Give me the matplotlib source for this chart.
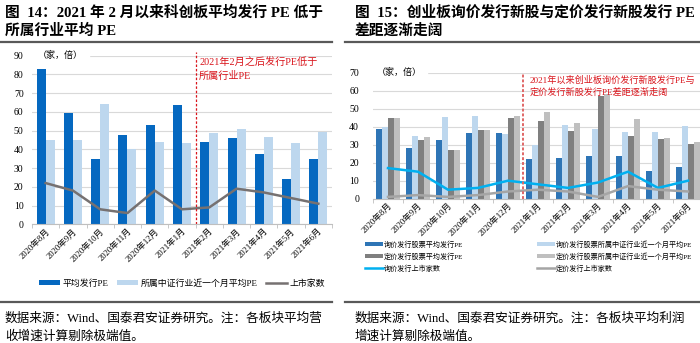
import matplotlib
matplotlib.use('Agg')
from matplotlib import pyplot as plt
from matplotlib.lines import Line2D
import numpy as np

plt.rcParams['font.family'] = ['Liberation Serif', 'Noto Sans CJK SC', 'DejaVu Sans']

# ---- left chart data (figure 14)
months = ['2020年8月', '2020年9月', '2020年10月', '2020年11月', '2020年12月', '2021年1月',
          '2021年2月', '2021年3月', '2021年4月', '2021年5月', '2021年6月']
avg_pe = [83, 59.5, 35, 47.5, 53, 63.5, 44, 46, 37.5, 24, 35]
industry_pe = [45, 45, 64, 40, 44, 43.5, 48.5, 51, 46.5, 43.5, 49]
listings = [22, 18, 8, 6, 18, 8, 9, 19, 17, 14, 11]

# ---- right chart data (figure 15)
months_r = ['2020年8月', '2020年9月', '2020年10月', '2020年11月', '2020年12月', '2021年1月',
            '2021年2月', '2021年3月', '2021年4月', '2021年5月', '2021年6月']
inq_pe = [39, 28, 32.5, 36.5, 36.5, 22, 22.5, 24, 24, 15.5, 17.5]
inq_ind_pe = [40, 35, 45.5, 46, 36, 30, 41, 39, 37, 37, 40.5]
fix_pe = [45, 32.5, 27, 38, 45, 43, 37.5, 57, 35, 33, 30.5]
fix_ind_pe = [45, 34.5, 27, 38, 46, 48, 42, 58, 44, 34, 31.5]
inq_count = [17, 15, 5, 6, 10, 8, 6, 9, 15, 6, 10]
fix_count = [1, 2, 1, 2, 4, 5, 4, 1, 7, 5, 4]

W, H = 700, 343
fig = plt.figure(figsize=(7, 3.43), dpi=100)
RED = '#d9141b'
GRID = '#d9d9d9'


def px(x0, y0, x1, y1):
    # pixel box (top-left origin) -> figure fraction rect
    return [x0 / W, 1 - y1 / H, (x1 - x0) / W, (y1 - y0) / H]


def hline(x0, x1, y, lw=1.6, color='#595959'):
    fig.add_artist(Line2D([x0 / W, x1 / W], [1 - y / H, 1 - y / H], color=color, lw=lw,
                          transform=fig.transFigure))


def style_axis(ax, ymax, step):
    ax.set_ylim(0, ymax)
    ax.set_yticks(np.arange(0, ymax + 1, step))
    ax.grid(axis='y', color=GRID, lw=0.8)
    ax.set_axisbelow(True)
    for s in ['top', 'right', 'left']:
        ax.spines[s].set_visible(False)
    ax.spines['bottom'].set_color('#bfbfbf')
    ax.tick_params(axis='y', length=0, labelsize=7, pad=6)
    ax.tick_params(axis='x', which='major', length=0, labelsize=6.2, pad=2)
    ax.tick_params(axis='x', which='minor', length=3, color='#bfbfbf')


# ================= left =================
fig.text(5 / W, 1 - 13 / H, '图  14：2021 年 2 月以来科创板平均发行 PE 低于',
         fontsize=10.6, fontweight='bold', va='center', ha='left')
fig.text(5 / W, 1 - 31 / H, '所属行业平均 PE', fontsize=10.6, fontweight='bold',
         va='center', ha='left')
hline(0, 332, 42)

ax = fig.add_axes(px(32, 55.6, 332, 224.3))
x = np.arange(len(months))
bw = 0.33
b1 = ax.bar(x - bw / 2, avg_pe, bw, color='#0568c0', label='平均发行PE')
b2 = ax.bar(x + bw / 2, industry_pe, bw, color='#bdd7ee', label='所属中证行业近一个月平均PE')
l1, = ax.plot(x, listings, color='#767171', lw=1.8, label='上市家数')
ax.set_xlim(-0.5, len(months) - 0.5)
style_axis(ax, 90, 10)
ax.set_xticks(x)
ax.set_xticklabels(months, rotation=45, ha='right', rotation_mode='anchor')
ax.set_xticks(np.arange(-0.5, len(months), 1), minor=True)
ax.axvline(5.5, ymin=0, ymax=1.02, color=RED, ls=(0, (2, 1.5)), lw=0.9, clip_on=False)
ax.text(5.63, 89, '2021年2月之后发行PE低于\n所属行业PE', color=RED, fontsize=7.3,
        va='top', ha='left', linespacing=1.45)
ax.text(0.02, 1.0, '（家，倍）', transform=ax.transAxes, fontsize=6.5, va='center',
        ha='left', backgroundcolor='white')
ax.legend([b1, b2, l1], ['平均发行PE', '所属中证行业近一个月平均PE', '上市家数'],
          loc='center', bbox_to_anchor=(0.5, -0.35), ncol=3, frameon=False,
          fontsize=6.4, handlelength=2.4, handleheight=0.5, columnspacing=0.9,
          handletextpad=0.3)

hline(0, 332, 302)
fig.text(5 / W, 1 - 319 / H, '数据来源：Wind、国泰君安证券研究。注：各板块平均营',
         fontsize=9.1, va='center', ha='left')
fig.text(5 / W, 1 - 337 / H, '收增速计算剔除极端值。', fontsize=9.1, va='center', ha='left')

# ================= right =================
fig.text(355 / W, 1 - 13 / H, '图  15：创业板询价发行新股与定价发行新股发行 PE',
         fontsize=10.6, fontweight='bold', va='center', ha='left')
fig.text(355 / W, 1 - 31 / H, '差距逐渐走阔', fontsize=10.6, fontweight='bold',
         va='center', ha='left')
hline(345, 700, 42)

ax2 = fig.add_axes(px(373, 72.7, 703, 198.7))
x2 = np.arange(len(months_r))
w = 0.195
ax2.bar(x2 - 1.5 * w, inq_pe, w, color='#2e75b6', label='询价发行股票平均发行PE')
ax2.bar(x2 - 0.5 * w, inq_ind_pe, w, color='#bdd7ee', label='询价发行股票所属中证行业近一个月平均PE')
ax2.bar(x2 + 0.5 * w, fix_pe, w, color='#7f7f7f', label='定价发行股票平均发行PE')
ax2.bar(x2 + 1.5 * w, fix_ind_pe, w, color='#bfbfbf', label='定价发行股票所属中证行业近一个月平均PE')
ax2.plot(x2, inq_count, color='#00b0f0', lw=1.8, label='询价发行上市家数')
ax2.plot(x2, fix_count, color='#a5a5a5', lw=1.8, label='定价发行上市家数')
ax2.set_xlim(-0.5, len(months_r) - 0.5)
style_axis(ax2, 70, 10)
ax2.tick_params(axis='y', labelsize=7, pad=10)
ax2.set_xticks(x2)
ax2.set_xticklabels(months_r, rotation=45, ha='right', rotation_mode='anchor')
ax2.set_xticks(np.arange(-0.5, len(months_r), 1), minor=True)
ax2.axvline(4.5, ymin=0, ymax=1.0, color='#e06666', ls=(0, (1.5, 1)), lw=1.4)
ax2.text(4.72, 68.5, '2021年以来创业板询价发行新股发行PE与\n定价发行新股发行PE差距逐渐走阔',
         color=RED, fontsize=6.6, va='top', ha='left', linespacing=1.45)
ax2.text(0.01, 1.0, '（家，倍）', transform=ax2.transAxes, fontsize=6.5, va='center',
         ha='left', backgroundcolor='white')
h, l = ax2.get_legend_handles_labels()
leg_kw = dict(loc='upper left', frameon=False, fontsize=5.1, handlelength=2.5,
              handleheight=0.6, handletextpad=0.1, labelspacing=0.65,
              bbox_transform=fig.transFigure, borderaxespad=0, borderpad=0)
leg_a = ax2.legend([h[2], h[4], h[0]], [l[2], l[4], l[0]],
                   bbox_to_anchor=(365 / W, 1 - 240 / H), **leg_kw)
ax2.add_artist(leg_a)
ax2.legend([h[3], h[5], h[1]], [l[3], l[5], l[1]],
           bbox_to_anchor=(537 / W, 1 - 240 / H), **leg_kw)

hline(345, 700, 302)
fig.text(355 / W, 1 - 319 / H, '数据来源：Wind、国泰君安证券研究。注：各板块平均利润',
         fontsize=9.1, va='center', ha='left')
fig.text(355 / W, 1 - 337 / H, '增速计算剔除极端值。', fontsize=9.1, va='center', ha='left')

fig.savefig('out.png', dpi=100)
